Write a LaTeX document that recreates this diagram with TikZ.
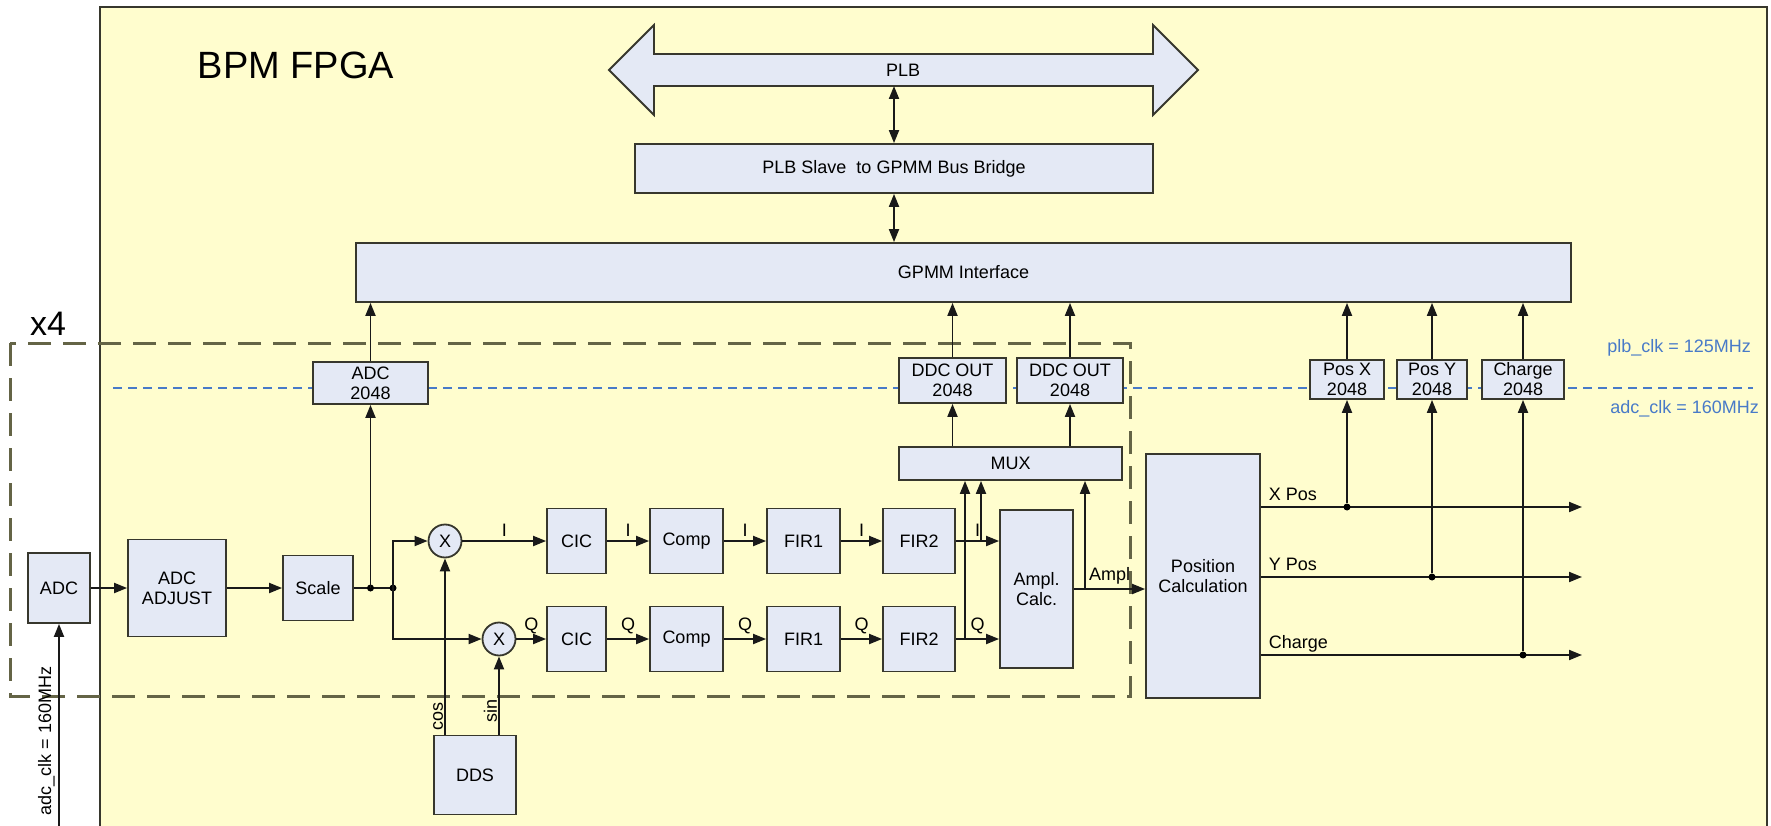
\documentclass[tikz,border=0pt]{standalone}
\usepackage{fontspec}
\setmainfont{Liberation Sans}
\usetikzlibrary{arrows.meta}
\definecolor{fpgayellow}{RGB}{255,253,206}
\definecolor{blockfill}{RGB}{228,233,245}
\definecolor{edgegray}{RGB}{55,55,45}
\definecolor{loopolive}{RGB}{100,100,70}
\definecolor{clkblue}{RGB}{72,122,200}

\begin{document}
\begin{tikzpicture}[x=1pt,y=-1pt,
        blk/.style={draw=edgegray,fill=blockfill,line width=1.8pt,inner sep=0pt,align=center,font=\fontsize{18}{20}\selectfont},
        mixer/.style={circle,draw=edgegray,fill=blockfill,line width=1.8pt,minimum size=33pt,inner sep=0pt,font=\fontsize{18}{20}\selectfont},
        sig/.style={line width=1.9pt,draw=black!90},
        arr/.style={sig,-{Triangle[length=13pt,width=10pt]}},
        darr/.style={sig,{Triangle[length=13pt,width=10pt]}-{Triangle[length=13pt,width=10pt]}},
        dot/.style={circle,fill=black,inner sep=0pt,minimum size=7pt},
        lbl/.style={font=\fontsize{18}{20}\selectfont,inner sep=1pt},
        clk/.style={lbl,text=clkblue}]
        \useasboundingbox (0,0) rectangle (1771,826);

        % fpga area
        \fill[fpgayellow] (100,7) rectangle (1767,826);
        \draw[edgegray,line width=1.8pt] (100,826) -- (100,7) -- (1767,7) -- (1767,826);
        \draw[loopolive,line width=3pt,dash pattern=on 23pt off 12pt] (10,343) rectangle (1130,696);
        \draw[clkblue,line width=1.3pt,dash pattern=on 9pt off 6pt] (113,388) -- (1753,388);

        % labelleds
        \node[font=\fontsize{38}{42}\selectfont] (title) at (296,65) {BPM FPGA};
        \node[font=\fontsize{34}{38}\selectfont] (copies) at (48,324) {x4};
        \node[clk,anchor=east] (plbclk) at (1752,348) {plb\_clk = 125MHz};
        \node[clk,anchor=east] (adcclk) at (1760,409) {adc\_clk = 160MHz};
        \node[lbl,rotate=90,anchor=south] (clkin) at (56,741) {adc\_clk = 160MHz};

        % bus side
        \draw[draw=edgegray,fill=blockfill,line width=1.8pt] (609,70) -- (654,25) -- (654,54) -- (1153,54) -- (1153,25) -- (1198,70)
            -- (1153,115) -- (1153,86) -- (654,86) -- (654,115) -- cycle;
        \node[lbl] (plb) at (903,70) {PLB};
        \coordinate (plbfoot) at (894,86);
        \node[blk,minimum width=518pt,minimum height=49pt] (bridge) at (894,168.5) {PLB Slave\ \ to GPMM Bus Bridge};
        \node[blk,minimum width=1215pt,minimum height=59pt] (gpmm) at (963.5,272.5) {GPMM Interface};

        % blocks
        \node[blk,minimum width=62pt,minimum height=70pt] (adc) at (59,588) {ADC};
        \node[blk,minimum width=98pt,minimum height=97pt] (adcadj) at (177,588) {ADC\\ADJUST};
        \node[blk,minimum width=70pt,minimum height=65pt] (scale) at (318,588) {Scale};
        \node[blk,minimum width=115pt,minimum height=42pt] (adcbuf) at (370.5,383) {ADC\\2048};
        \node[mixer] (mixI) at (445,541) {X};
        \node[mixer] (mixQ) at (499,639) {X};
        \node[blk,minimum width=82pt,minimum height=79pt] (dds) at (475,775) {DDS};
        \node[blk,minimum width=59pt,minimum height=65pt] (cicI) at (576.5,541) {CIC};
        \node[blk,minimum width=59pt,minimum height=65pt] (cicQ) at (576.5,639) {CIC};
        \node[blk,minimum width=73pt,minimum height=65pt] (compI) at (686.5,541) {Comp};
        \node[blk,minimum width=73pt,minimum height=65pt] (compQ) at (686.5,639) {Comp};
        \node[blk,minimum width=73pt,minimum height=65pt] (firaI) at (803.5,541) {FIR1};
        \node[blk,minimum width=73pt,minimum height=65pt] (firaQ) at (803.5,639) {FIR1};
        \node[blk,minimum width=72pt,minimum height=65pt] (firbI) at (919,541) {FIR2};
        \node[blk,minimum width=72pt,minimum height=65pt] (firbQ) at (919,639) {FIR2};
        \node[blk,minimum width=73pt,minimum height=158pt] (ampl) at (1036.5,589) {Ampl.\\Calc.};
        \node[blk,minimum width=223pt,minimum height=33pt] (mux) at (1010.5,463.5) {MUX};
        \node[blk,minimum width=107pt,minimum height=45pt] (ddcI) at (952.5,380.5) {DDC OUT\\2048};
        \node[blk,minimum width=106pt,minimum height=45pt] (ddcQ) at (1070,380.5) {DDC OUT\\2048};
        \node[blk,minimum width=114pt,minimum height=244pt] (poscalc) at (1203,576) {Position\\Calculation};
        \node[blk,minimum width=74pt,minimum height=39pt] (posxbuf) at (1347,379.5) {Pos X\\2048};
        \node[blk,minimum width=70pt,minimum height=39pt] (posybuf) at (1432,379.5) {Pos Y\\2048};
        \node[blk,minimum width=82pt,minimum height=39pt] (chgbuf) at (1523,379.5) {Charge\\2048};

        %% arcs
        \draw[darr] (plbfoot) -- (bridge);
        \draw[darr] (bridge) -- (bridge |- gpmm.north);
        \coordinate (clksrc) at (59,826);
        \draw[arr] (clksrc) -- (adc);
        \draw[arr] (adc) -- (adcadj);
        \draw[arr] (adcadj) -- (scale);
        \coordinate (tap) at (370.5,588);
        \coordinate (split) at (393,588);
        \draw[sig] (scale) -- (split);
        \node[dot] (tapdot) at (tap) {};
        \node[dot] (splitdot) at (split) {};
        \draw[arr] (tap) -- (adcbuf);
        \draw[arr] (adcbuf) -- (adcbuf |- gpmm.south);
        \draw[arr] (split) |- (mixI);
        \draw[arr] (split) |- (mixQ);
        \draw[arr] (mixI |- dds.north) -- node[lbl,rotate=90,anchor=south,pos=0.1] {cos} (mixI);
        \draw[arr] (mixQ |- dds.north) -- node[lbl,rotate=90,anchor=south,pos=0.3] {sin} (mixQ);

        \draw[arr] (mixI) -- node[lbl,above=3pt] {I} (cicI);
        \draw[arr] (cicI) -- node[lbl,above=3pt] {I} (compI);
        \draw[arr] (compI) -- node[lbl,above=3pt] {I} (firaI);
        \draw[arr] (firaI) -- node[lbl,above=3pt] {I} (firbI);
        \draw[arr] (firbI) -- node[lbl,above=3pt] {I} (firbI -| ampl.west);
        \draw[arr] (mixQ) -- node[lbl,above=3pt] {Q} (cicQ);
        \draw[arr] (cicQ) -- node[lbl,above=3pt] {Q} (compQ);
        \draw[arr] (compQ) -- node[lbl,above=3pt] {Q} (firaQ);
        \draw[arr] (firaQ) -- node[lbl,above=3pt] {Q} (firbQ);
        \draw[arr] (firbQ) -- node[lbl,above=3pt] {Q} (firbQ -| ampl.west);

        \coordinate (brQ) at (965,639);
        \coordinate (brI) at (981,541);
        \coordinate (brA) at (1085,589);
        \draw[arr] (brQ) -- (brQ |- mux.south);
        \draw[arr] (brI) -- (brI |- mux.south);
        \draw[arr] (ampl) -- node[lbl,above=3pt] {Ampl} (ampl -| poscalc.west);
        \draw[arr] (brA) -- (brA |- mux.south);
        \draw[arr] (mux.north -| ddcI) -- (ddcI);
        \draw[arr] (mux.north -| ddcQ) -- (ddcQ);
        \draw[arr] (ddcI) -- (ddcI |- gpmm.south);
        \draw[arr] (ddcQ) -- (ddcQ |- gpmm.south);

        \coordinate (xout) at (1582,507);
        \coordinate (yout) at (1582,577);
        \coordinate (qout) at (1582,655);
        \draw[arr] (poscalc.east |- xout) -- node[lbl,pos=0,anchor=south west,xshift=6pt,yshift=4pt] {X Pos} (xout);
        \draw[arr] (poscalc.east |- yout) -- node[lbl,pos=0,anchor=south west,xshift=6pt,yshift=4pt] {Y Pos} (yout);
        \draw[arr] (poscalc.east |- qout) -- node[lbl,pos=0,anchor=south west,xshift=6pt,yshift=1pt] {Charge} (qout);
        \node[dot] (xdot) at (posxbuf |- xout) {};
        \node[dot] (ydot) at (posybuf |- yout) {};
        \node[dot] (qdot) at (chgbuf |- qout) {};
        \draw[arr] (xdot) -- (posxbuf);
        \draw[arr] (ydot) -- (posybuf);
        \draw[arr] (qdot) -- (chgbuf);
        \draw[arr] (posxbuf) -- (posxbuf |- gpmm.south);
        \draw[arr] (posybuf) -- (posybuf |- gpmm.south);
        \draw[arr] (chgbuf) -- (chgbuf |- gpmm.south);
\end{tikzpicture}
\end{document}
